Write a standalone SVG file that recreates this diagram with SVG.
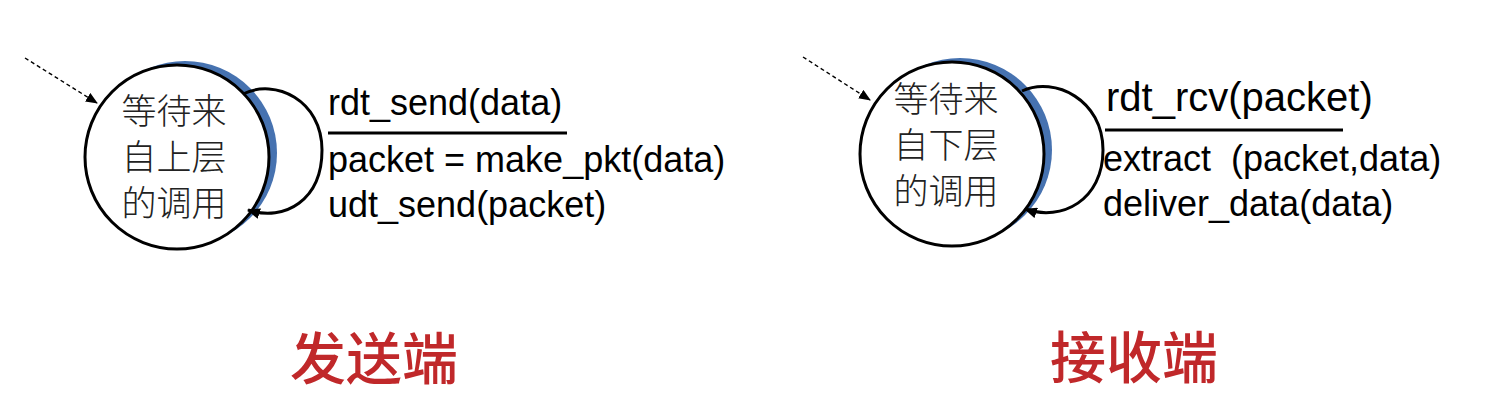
<svg xmlns="http://www.w3.org/2000/svg" width="1490" height="418" viewBox="0 0 1490 418">
  <style>
    .state { fill: #ffffff; stroke: #000000; stroke-width: 3; }
    .shadow { fill: #4672b0; stroke: none; }
    .stxt { font-family: "Noto Sans CJK SC", "Noto Sans", sans-serif; font-size: 35px; font-weight: 300; fill: #222222; text-anchor: middle; }
    .lbl { font-family: "Liberation Sans", Arial, sans-serif; font-size: 36px; fill: #000000; }
    .big { font-size: 40px; }
    .side { font-family: "Noto Sans CJK SC", "Noto Sans", sans-serif; font-size: 56px; font-weight: 500; fill: #c0282a; text-anchor: middle; }
    .loop { fill: none; stroke: #000000; stroke-width: 3; }
    .init { fill: none; stroke: #000000; stroke-width: 1.4; stroke-dasharray: 4 3; }
    .bar { stroke: #000000; stroke-width: 3; }
  </style>
  <defs>
    <marker id="ah" viewBox="0 0 12 10" refX="11" refY="5" markerWidth="13" markerHeight="11" markerUnits="userSpaceOnUse" orient="auto">
      <path d="M0,0 L12,5 L0,10 Z" fill="#000000"/>
    </marker>
    <marker id="ahs" viewBox="0 0 12 10" refX="11" refY="5" markerWidth="12" markerHeight="10" markerUnits="userSpaceOnUse" orient="auto">
      <path d="M0,0 L12,5 L0,10 Z" fill="#000000"/>
    </marker>
  </defs>

  <g id="sender-state">
    <circle class="shadow" cx="185" cy="153" r="92"/>
    <circle class="state" cx="177" cy="157" r="92"/>
    <text class="stxt" x="174" y="124">等待来</text>
    <text class="stxt" x="174" y="170">自上层</text>
    <text class="stxt" x="174" y="216">的调用</text>
  </g>

  <g id="receiver-state">
    <circle class="shadow" cx="960" cy="150" r="92"/>
    <circle class="state" cx="952" cy="154" r="92"/>
    <text class="stxt" x="946" y="112">等待来</text>
    <text class="stxt" x="946" y="158">自下层</text>
    <text class="stxt" x="946" y="204">的调用</text>
  </g>

  <g id="connectors">
    <path class="init" d="M25,58 L97,103" marker-end="url(#ahs)"/>
    <path class="loop" d="M243,94 C275,78 322,100 322,150 C322,200 285,222 248,210" marker-end="url(#ah)"/>
    <path class="init" d="M803,57 L870,100" marker-end="url(#ahs)"/>
    <path class="loop" d="M1022,91 C1055,76 1103,100 1103,150 C1103,200 1062,222 1025,209" marker-end="url(#ah)"/>
  </g>

  <g id="sender-label">
    <text class="lbl" x="328" y="115">rdt_send(data)</text>
    <line class="bar" x1="328" y1="133" x2="567" y2="133"/>
    <text class="lbl" x="328" y="172">packet = make_pkt(data)</text>
    <text class="lbl" x="328" y="217">udt_send(packet)</text>
  </g>

  <g id="receiver-label">
    <text class="lbl big" x="1106" y="111">rdt_rcv(packet)</text>
    <line class="bar" x1="1105" y1="130" x2="1343" y2="130"/>
    <text class="lbl" x="1103" y="171" xml:space="preserve">extract  (packet,data)</text>
    <text class="lbl" x="1103" y="216">deliver_data(data)</text>
  </g>

  <g id="sender-title">
    <text class="side" x="374" y="379">发送端</text>
  </g>
  <g id="receiver-title">
    <text class="side" x="1134" y="378">接收端</text>
  </g>
</svg>
